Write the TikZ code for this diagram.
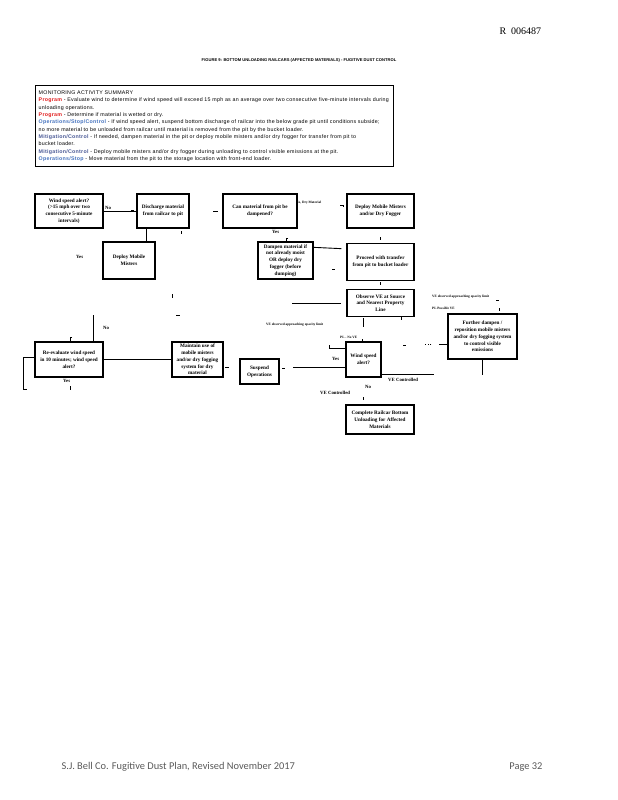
\documentclass[tikz,border=0pt]{standalone}
\usepackage{fontspec}
\usepackage[none]{hyphenat}
\setmainfont{Liberation Serif}
\newfontfamily\hdrfont[LetterSpace=5]{Liberation Sans}
\newfontfamily\titlefont{Liberation Sans}
\newfontfamily\footfont{Carlito}
\usetikzlibrary{positioning}

\definecolor{progred}{RGB}{225,30,30}
\definecolor{opblue}{RGB}{70,115,190}
\definecolor{mitblue}{RGB}{75,90,150}

\begin{document}
\begin{tikzpicture}[
  x=1pt, y=-1pt,
  box/.style={draw, line width=1.3pt, align=center, inner xsep=0.5pt, inner ysep=1pt,
              font=\fontsize{5.2}{6.8}\selectfont\bfseries},
  lbl/.style={anchor=west, inner sep=0pt, font=\fontsize{4.8}{5}\selectfont\bfseries},
  slbl/.style={anchor=west, inner sep=0pt, font=\fontsize{3.4}{4}\selectfont\bfseries},
  ln/.style={line width=0.9pt},
  tk/.style={line width=0.9pt}
]
\useasboundingbox (0,0) rectangle (618,800);

% page header and footer
\node[anchor=west, font=\fontsize{10}{11}\selectfont] (bates) at (496,31) {R\ \ 006487};
\node[font=\titlefont\bfseries\fontsize{4.1}{4.5}\selectfont] (title) at (299,60)
  {FIGURE 9: BOTTOM UNLOADING RAILCARS (AFFECTED MATERIALS) - FUGITIVE DUST CONTROL};
\node[anchor=west, text=black!65, font=\footfont\fontsize{10.4}{11}\selectfont] (footer) at (58,767)
  {S.J. Bell Co. Fugitive Dust Plan, Revised November 2017};
\node[anchor=east, text=black!65, font=\footfont\fontsize{10.4}{11}\selectfont] (page) at (546,767) {Page 32};

% summary box
\node[draw, line width=1.4pt, anchor=north west, text width=352pt, minimum height=81pt,
      inner sep=3pt, align=left, font=\hdrfont\fontsize{5.3}{7.3}\selectfont] (summary) at (35,85)
  {MONITORING ACTIVITY SUMMARY\\
   \textcolor{progred}{\bfseries Program} - Evaluate wind to determine if wind speed will exceed 15 mph as an average over two consecutive five-minute intervals during\\
   unloading operations.\\
   \textcolor{progred}{\bfseries Program} - Determine if material is wetted or dry.\\
   \textcolor{opblue}{\bfseries Operations/Stop/Control} - If wind speed alert, suspend bottom discharge of railcar into the below grade pit until conditions subside;\\
   no more material to be unloaded from railcar until material is removed from the pit by the bucket loader.\\
   \textcolor{mitblue}{\bfseries Mitigation/Control} - If needed, dampen material in the pit or deploy mobile misters and/or dry fogger for transfer from pit to\\
   bucket loader.\\
   \textcolor{mitblue}{\bfseries Mitigation/Control} - Deploy mobile misters and/or dry fogger during unloading to control visible emissions at the pit.\\
   \textcolor{opblue}{\bfseries Operations/Stop} - Move material from the pit to the storage location with front-end loader.};

% flow boxes
\node[box, minimum width=68pt, minimum height=34pt] (wind1) at (69,211)
  {Wind speed alert?\\(>15 mph over two\\consecutive 5-minute\\intervals)};
\node[box, minimum width=52pt, minimum height=34pt] (discharge) at (163,211)
  {Discharge material\\from railcar to pit};
\node[box, minimum width=52pt, minimum height=37pt] (misters1) at (129,260.5)
  {Deploy Mobile\\Misters};
\node[box, minimum width=74pt, minimum height=34pt] (dampq) at (260,211)
  {Can material from pit be\\dampened?};
\node[box, minimum width=67pt, minimum height=34pt] (deploy2) at (380.5,211)
  {Deploy Mobile Misters\\and/or Dry Fogger};
\node[box, minimum width=55pt, minimum height=37pt] (dampen) at (285.5,260.5)
  {Dampen material if\\not already moist\\OR deploy dry\\fogger (before\\dumping)};
\node[box, minimum width=67pt, minimum height=37pt, below=14pt of deploy2] (proceed)
  {Proceed with transfer\\from pit to bucket loader};
\node[box, minimum width=67pt, minimum height=27pt, below=8pt of proceed] (observe)
  {Observe VE at Source\\and Nearest Property\\Line};
\node[box, minimum width=35pt, minimum height=35pt] (wind2) at (363.5,359.5)
  {Wind speed\\alert?};
\node[box, minimum width=68pt, minimum height=29pt] (complete) at (380,419.5)
  {Complete Railcar Bottom\\Unloading for Affected\\Materials};
\node[box, minimum width=39pt, minimum height=25pt] (suspend) at (259.5,371.5)
  {Suspend\\Operations};
\node[box, minimum width=51pt, minimum height=35pt] (maintain) at (197.5,359.5)
  {Maintain use of\\mobile misters\\and/or dry fogging\\system for dry\\material};
\node[box, minimum width=68pt, minimum height=35pt] (reeval) at (69,359.5)
  {Re-evaluate wind speed\\in 10 minutes; wind speed\\alert?};
\node[box, minimum width=69pt, minimum height=45pt] (further) at (482.5,336.5)
  {Further dampen /\\reposition mobile misters\\and/or dry fogging system\\to control visible\\emissions};

% connectors
\draw[ln] (wind1.east) -- (discharge.west);
\draw[ln] ([xshift=10pt]discharge.south west) -- ([xshift=44pt]misters1.north west);
\draw[ln] ([yshift=-6pt]dampen.north east) -- ([yshift=-6pt,xshift=-5pt]proceed.north west);
\draw[ln] ([xshift=-54pt]observe.west) -- ([xshift=-5pt]observe.west);
\draw[ln] (wind2.north) ++(0,-23) -- ++(0,9);
\draw[ln] ([yshift=-7pt]wind2.north west) -- ++(-16,0) -- ++(0,-3);
\draw[ln] ([yshift=-26pt]wind2.north west) -- ++(-52,0);
\draw[ln] ([yshift=3pt]wind2.south east) -- ++(52,0);
\draw[ln] (further.south) -- ++(0,15);
\draw[ln] ([yshift=-31pt]further.north west) -- ++(-8,0);
\draw[ln, dotted] ([yshift=-31pt,xshift=-16pt]further.north west) -- ++(-6,0);
\draw[ln] ([xshift=59pt]reeval.north west) -- ++(0,-26);
\draw[ln] (reeval.east) -- (maintain.west);
\draw[ln] ([yshift=-16pt]reeval.north west) -- ++(-11,0) -- ++(0,32) -- ++(4,0);

% arrow tip fragments
\draw[tk] (131,210) -- (134,210);
\draw[tk] (181,231) -- (181,234);
\draw[tk] (213,211) -- (218,211);
\draw[tk] (340,205) -- (343,205) -- (343,207);
\draw[tk] (288,238) -- (286,238) -- (286,241);
\draw[tk] (380,237) -- (380,240);
\draw[tk] (332,269) -- (335,269);
\draw[tk] (380,282) -- (380,285);
\draw[tk] (172,294) -- (172,298);
\draw[tk] (176,315) -- (180,315);
\draw[tk] (401,317) -- (401,320);
\draw[tk] (362,339) -- (362,341);
\draw[tk] (403,345) -- (406,345);
\draw[tk] (282,368) -- (285,368);
\draw[tk] (225,367) -- (229,367);
\draw[tk] (72,337) -- (70,337) -- (70,341);
\draw[tk] (70,386) -- (70,390);
\draw[tk] (363,397) -- (363,400);
\draw[tk] (496,300) -- (499,300);
\draw[tk] (499,308) -- (499,311);

% labels
\node[lbl] (noA) at (105,208) {No};
\node[lbl] (yesA) at (76,257) {Yes};
\node[slbl] (dryA) at (296,203) {No, Dry Material};
\node[lbl] (yesB) at (272,232) {Yes};
\node[slbl] (veA) at (266,325) {VE observed approaching opacity limit};
\node[slbl] (plA) at (340,337) {PL - No VE};
\node[lbl] (yesC) at (332,359) {Yes};
\node[lbl] (vcA) at (388,380) {VE Controlled};
\node[lbl] (noB) at (365,387) {No};
\node[lbl] (vcB) at (320,393) {VE Controlled};
\node[slbl] (veB) at (432,297) {VE observed approaching opacity limit};
\node[slbl] (plB) at (432,308) {PL Possible VE};
\node[lbl] (noC) at (103,328) {No};
\node[lbl] (yesD) at (63,381) {Yes};
\end{tikzpicture}
\end{document}
